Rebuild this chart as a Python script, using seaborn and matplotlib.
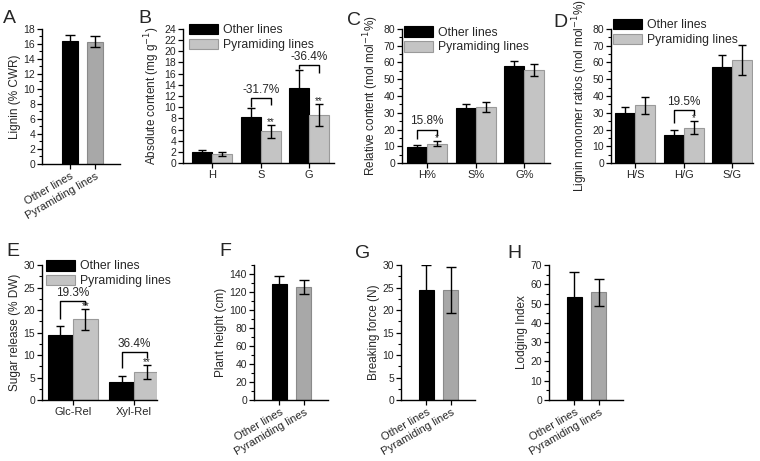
import numpy as np
import pandas as pd
import matplotlib
matplotlib.use("Agg")
import matplotlib.pyplot as plt
import seaborn as sns
from matplotlib.patches import Patch
from matplotlib.ticker import MultipleLocator

sns.set_style("ticks")
plt.rcParams['font.family'] = ['Liberation Sans', 'DejaVu Sans']

# ---------------- data ----------------
groups = ["Other lines", "Pyramiding lines"]

# A: lignin
lignin_mean = [16.4, 16.3]
lignin_err = [0.8, 0.7]

# B: absolute monomer content
mono_cats = ["H", "S", "G"]
abs_other = [2.0, 8.25, 13.5]
abs_other_err = [0.4, 1.6, 3.2]
abs_pyr = [1.6, 5.65, 8.6]
abs_pyr_err = [0.35, 1.15, 2.05]

# C: relative content
rel_cats = ["H%", "S%", "G%"]
rel_other = [9.6, 33.0, 57.8]
rel_other_err = [1.4, 2.2, 3.2]
rel_pyr = [11.5, 33.6, 55.4]
rel_pyr_err = [1.6, 3.0, 3.6]

# D: monomer ratios
ratio_cats = ["H/S", "H/G", "S/G"]
ratio_other = [29.6, 16.6, 57.2]
ratio_other_err = [4.0, 3.4, 7.0]
ratio_pyr = [34.4, 21.0, 61.4]
ratio_pyr_err = [5.3, 3.8, 8.8]

# E: sugar release
sugar_cats = ["Glc-Rel", "Xyl-Rel"]
sugar_other = [14.4, 3.9]
sugar_other_err = [2.1, 1.4]
sugar_pyr = [17.9, 6.2]
sugar_pyr_err = [2.4, 1.5]

# F, G, H
height_mean = [128.5, 125.5]
height_err = [9.5, 8.0]
force_mean = [24.4, 24.5]
force_err = [5.5, 5.1]
lodging_mean = [53.2, 55.8]
lodging_err = [13.3, 7.2]

# annotations: (category index, label, bracket top, left leg end, right leg end, stars)
ann_B = [(1, "-31.7%", 11.6, 10.0, 10.3, "**"), (2, "-36.4%", 17.6, 16.8, 16.2, "**")]
ann_C = [(0, "15.8%", 20.0, 14.6, 16.2, "*")]
ann_D = [(1, "19.5%", 31.8, 23.6, 28.4, "*")]
ann_E = [(0, "19.3%", 21.9, 17.9, 21.1, "**"), (1, "36.4%", 10.7, 7.2, 9.3, "**")]

# ---------------- styling ----------------
W, H = 760, 461
fig = plt.figure(figsize=(W / 100, H / 100), dpi=100)

def px_axes(l, t, r, b):
    return fig.add_axes([l / W, (H - b) / H, (r - l) / W, (b - t) / H])

TICK_FS = 7.5
LAB_FS = 8.5
BLACK = "#000000"
DGRAY = "#a8a8a8"
DGRAY_E = "#8a8a8a"
LGRAY = "#c4c4c4"
LGRAY_E = "#9a9a9a"

def style_ax(ax, ymax, major, minor):
    sns.despine(ax=ax)
    ax.set_ylim(0, ymax)
    ax.yaxis.set_major_locator(MultipleLocator(major))
    if minor:
        ax.yaxis.set_minor_locator(MultipleLocator(minor))
    ax.tick_params(axis='both', which='major', length=3.5, width=0.9, labelsize=TICK_FS, pad=1.5, color='black')
    ax.tick_params(axis='y', which='minor', length=2, width=0.8, color='black')
    ax.tick_params(axis='x', which='major', labelsize=8)
    for s in ("left", "bottom"):
        ax.spines[s].set_linewidth(1.0)
        ax.spines[s].set_color("black")
    ax.set_xlabel("")

def two_bar(ax, means, errs, ylabel, ymax, major, minor, xlim):
    df = pd.DataFrame({"group": groups, "value": means})
    sns.barplot(data=df, x="group", y="value", hue="group", palette=[BLACK, DGRAY],
                width=0.62, errorbar=None, legend=False, ax=ax, saturation=1)
    cols = [BLACK, DGRAY_E]
    for p, c in zip(ax.patches, cols):
        p.set_edgecolor(c)
        p.set_linewidth(0.8)
    xs = [p.get_x() + p.get_width() / 2 for p in ax.patches]
    for x, m, e in zip(xs, means, errs):
        ax.errorbar(x, m, yerr=e, fmt='none', ecolor='black', elinewidth=1.0, capsize=3.5, capthick=1.0)
    style_ax(ax, ymax, major, minor)
    ax.set_xlim(*xlim)
    ax.set_xticks(xs)
    ax.set_xticklabels(groups, rotation=30, ha='right', rotation_mode='anchor', fontsize=8)
    ax.set_ylabel(ylabel, fontsize=LAB_FS, labelpad=2)

def grouped(ax, cats, other, other_err, pyr, pyr_err, ylabel, ymax, major, minor, xlim,
            anns, leg_anchor):
    df = pd.DataFrame({
        "cat": cats * 2,
        "group": [groups[0]] * len(cats) + [groups[1]] * len(cats),
        "value": list(other) + list(pyr),
    })
    sns.barplot(data=df, x="cat", y="value", hue="group", palette=[BLACK, LGRAY],
                width=0.82, errorbar=None, ax=ax, saturation=1)
    if ax.get_legend():
        ax.get_legend().remove()
    centers = []
    for cont, ec, means, errs in zip(ax.containers, [BLACK, LGRAY_E], [other, pyr], [other_err, pyr_err]):
        xs = []
        for p in cont:
            p.set_edgecolor(ec)
            p.set_linewidth(0.8)
            xs.append(p.get_x() + p.get_width() / 2)
        centers.append(xs)
        ax.errorbar(xs, means, yerr=errs, fmt='none', ecolor='black', elinewidth=1.0,
                    capsize=3.0, capthick=1.0)
    style_ax(ax, ymax, major, minor)
    ax.set_xlim(*xlim)
    ax.set_ylabel(ylabel, fontsize=LAB_FS, labelpad=2)
    for (ci, lab, top, lend, rend, stars) in anns:
        x0 = centers[0][ci]
        x1 = centers[1][ci]
        ax.plot([x0, x0, x1, x1], [lend, top, top, rend], color='black', lw=1.0,
                solid_capstyle='butt', clip_on=False)
        ax.annotate(lab, ((x0 + x1) / 2, top), xytext=(0, 1.5), textcoords='offset points',
                    ha='center', va='bottom', fontsize=8.5)
        ytop = pyr[ci] + pyr_err[ci]
        ax.annotate(stars, (x1, ytop), xytext=(0, -1.5), textcoords='offset points',
                    ha='center', va='bottom', fontsize=7)
    handles = [Patch(facecolor=BLACK, edgecolor=BLACK, linewidth=0.8),
               Patch(facecolor=LGRAY, edgecolor=LGRAY_E, linewidth=0.8)]
    ax.legend(handles, groups, loc='upper left', bbox_to_anchor=leg_anchor, frameon=False,
              fontsize=8.8, handlelength=2.4, handleheight=0.95, handletextpad=0.35,
              labelspacing=0.2, borderpad=0, borderaxespad=0)

# ---------------- panels ----------------
axA = px_axes(42, 29, 120, 164)
two_bar(axA, lignin_mean, lignin_err, "Lignin (% CWR)", 18, 2, 1, (-1.1, 1.97))

axB = px_axes(183, 29, 334, 163)
grouped(axB, mono_cats, abs_other, abs_other_err, abs_pyr, abs_pyr_err,
        "Absolute content (mg g$^{-1}$)", 24, 2, None, (-0.6, 2.51), ann_B, (0.04, 1.04))

axC = px_axes(402, 29, 550, 163)
grouped(axC, rel_cats, rel_other, rel_other_err, rel_pyr, rel_pyr_err,
        "Relative content (mol mol$^{-1}$%)", 80, 10, 5, (-0.52, 2.53), ann_C, (0.014, 1.022))

axD = px_axes(611, 29, 753, 163)
grouped(axD, ratio_cats, ratio_other, ratio_other_err, ratio_pyr, ratio_pyr_err,
        "Lignin monomer ratios (mol mol$^{-1}$%)", 80, 10, 5, (-0.5, 2.43), ann_D, (0.014, 1.075))

axE = px_axes(42, 265, 157, 400)
grouped(axE, sugar_cats, sugar_other, sugar_other_err, sugar_pyr, sugar_pyr_err,
        "Sugar release (% DW)", 30, 5, 2.5, (-0.5, 1.37), ann_E, (0.035, 1.037))

axF = px_axes(254, 265, 328, 400)
two_bar(axF, height_mean, height_err, "Plant height (cm)", 150, 20, 10, (-1.05, 2.0))

axG = px_axes(401, 265, 475, 400)
two_bar(axG, force_mean, force_err, "Breaking force (N)", 30, 5, 2.5, (-1.05, 2.0))

axH = px_axes(549, 265, 623, 400)
two_bar(axH, lodging_mean, lodging_err, "Lodging Index", 70, 10, 5, (-1.05, 2.0))

# panel letters
for lab, x, y in [("A", 3, 23), ("B", 138, 23), ("C", 347, 25), ("D", 553, 27),
                  ("E", 6, 256), ("F", 219, 256), ("G", 355, 258), ("H", 507, 258)]:
    fig.text(x / W, (H - y) / H, lab, fontsize=14, ha='left', va='baseline')

fig.savefig("out.png", dpi=100)
